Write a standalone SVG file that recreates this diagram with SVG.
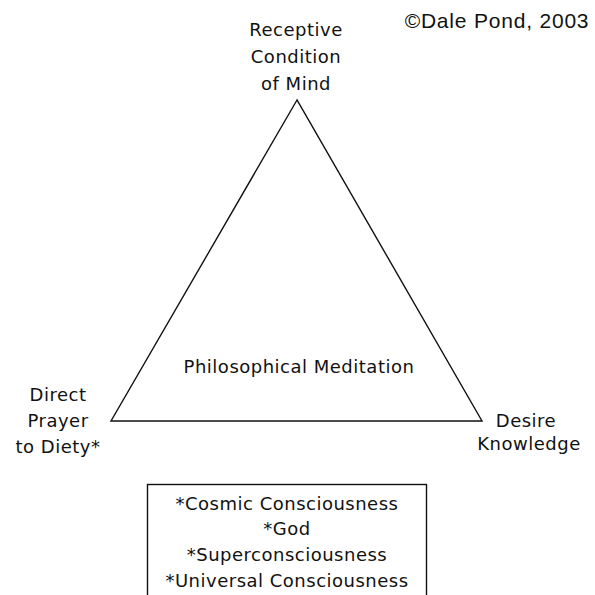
<svg xmlns="http://www.w3.org/2000/svg" width="595" height="595" viewBox="0 0 595 595">
<style>
.t{font-family:"DejaVu Sans",sans-serif;font-size:18px;letter-spacing:0.5px;fill:#111;text-anchor:middle}
.ln{fill:none;stroke:#111;stroke-width:1.4}
</style>
<rect width="595" height="595" fill="#fff"/>
<text x="497" y="28" font-family="Liberation Sans, Arial, sans-serif" font-size="21" letter-spacing="0.8" fill="#111" text-anchor="middle">©Dale Pond, 2003</text>
<g id="connectors">
<polygon class="ln" points="297,100 111,421 482,421"/>
</g>
<g id="node-top">
<text class="t" x="296" y="36">Receptive</text>
<text class="t" x="296" y="63">Condition</text>
<text class="t" x="296" y="90">of Mind</text>
</g>
<g id="node-center">
<text class="t" x="299" y="373">Philosophical Meditation</text>
</g>
<g id="node-left">
<text class="t" x="58" y="401">Direct</text>
<text class="t" x="58" y="427">Prayer</text>
<text class="t" x="58" y="453">to Diety*</text>
</g>
<g id="node-right">
<text class="t" x="526" y="427">Desire</text>
<text class="t" x="529" y="450">Knowledge</text>
</g>
<g id="node-box">
<rect class="ln" x="147.5" y="484.5" width="279" height="120"/>
<text class="t" x="287" y="510">*Cosmic Consciousness</text>
<text class="t" x="287" y="535">*God</text>
<text class="t" x="287" y="561">*Superconsciousness</text>
<text class="t" x="287" y="587">*Universal Consciousness</text>
</g>
</svg>
